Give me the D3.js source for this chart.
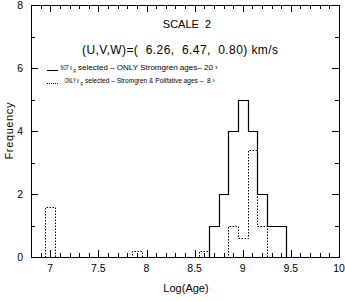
<!DOCTYPE html>
<html>
<head>
<meta charset="utf-8">
<script src="https://cdn.jsdelivr.net/npm/d3@7"></script>
<style>
  body { margin: 0; background: #fff; }
  text { font-family: "Liberation Sans", Arial, sans-serif; fill: #000; white-space: pre; }
</style>
</head>
<body>
<div id="wrapper"></div>
<script>
// bins of width 0.1 in Log(Age), by centre
const binWidth = 0.1
const solidBins = [8.7, 8.8, 8.9, 9.0, 9.1, 9.2, 9.3, 9.4]
const solidCounts = [1, 2, 4, 5, 4, 2, 1, 1]
const dottedBins = [7.0, 7.9, 8.6, 8.9, 9.0, 9.1, 9.2]
const dottedCounts = [1.6, 0.2, 0.2, 1.0, 0.6, 3.4, 1.0]

const xTickLabels = [7, 7.5, 8, 8.5, 9, 9.5, 10]
const yTickLabels = [0, 2, 4, 6, 8]

const titleText = "SCALE  2"
const velText = "(U,V,W)=(  6.26,  6.47,  0.80) km/s"

let dimensions = {
  width: 345,
  height: 301,
  margin: { top: 5, right: 6, bottom: 44, left: 31 },
}
dimensions.boundedWidth = dimensions.width - dimensions.margin.left - dimensions.margin.right
dimensions.boundedHeight = dimensions.height - dimensions.margin.top - dimensions.margin.bottom

const xScale = d3.scaleLinear()
  .domain([6.8, 10])
  .range([0, dimensions.boundedWidth])

const yScale = d3.scaleLinear()
  .domain([0, 8])
  .range([dimensions.boundedHeight, 0])

const svg = d3.select("#wrapper")
  .append("svg")
    .attr("width", dimensions.width)
    .attr("height", dimensions.height)

const bounds = svg.append("g")
  .attr("transform", `translate(${dimensions.margin.left},${dimensions.margin.top})`)

// frame
bounds.append("rect")
  .attr("x", 0.5).attr("y", 0.5)
  .attr("width", dimensions.boundedWidth)
  .attr("height", dimensions.boundedHeight)
  .attr("fill", "none")
  .attr("stroke", "#000")
  .attr("stroke-width", 1)

// ticks: minor every 0.1, major every 0.5 (inward on both sides)
const xMinor = d3.range(68, 101).map(d => d / 10)
const tickG = bounds.append("g").attr("stroke", "#000").attr("stroke-width", 1)
xMinor.forEach(v => {
  const major = Math.abs(v * 2 - Math.round(v * 2)) < 1e-6
  const len = major ? 7 : 4
  const x = Math.round(xScale(v)) + 0.5
  tickG.append("line").attr("x1", x).attr("x2", x)
    .attr("y1", dimensions.boundedHeight).attr("y2", dimensions.boundedHeight - len)
  tickG.append("line").attr("x1", x).attr("x2", x)
    .attr("y1", 0).attr("y2", len)
})
d3.range(0, 9).forEach(v => {
  const len = v % 2 === 0 ? 7 : 4
  const y = Math.round(yScale(v)) + 0.5
  tickG.append("line").attr("x1", 0).attr("x2", len).attr("y1", y).attr("y2", y)
  tickG.append("line").attr("x1", dimensions.boundedWidth).attr("x2", dimensions.boundedWidth - len)
    .attr("y1", y).attr("y2", y)
})

// tick labels
bounds.append("g").selectAll("text")
  .data(xTickLabels)
  .join("text")
    .attr("x", d => xScale(d))
    .attr("y", dimensions.boundedHeight + 15)
    .attr("text-anchor", "middle")
    .attr("font-size", 10.5)
    .text(d => d)

bounds.append("g").selectAll("text")
  .data(yTickLabels)
  .join("text")
    .attr("x", -8)
    .attr("y", d => yScale(d) + 4)
    .attr("text-anchor", "end")
    .attr("font-size", 10.5)
    .text(d => d)

// axis titles
svg.append("text")
  .attr("x", 186)
  .attr("y", 292)
  .attr("text-anchor", "middle")
  .attr("font-size", 11)
  .text("Log(Age)")

svg.append("text")
  .attr("transform", "translate(13,131) rotate(-90)")
  .attr("text-anchor", "middle")
  .attr("font-size", 11)
  .attr("textLength", 57)
  .text("Frequency")

// step outline of a histogram
function stepPoints(bins, counts) {
  const pts = []
  let prevRight = null
  bins.forEach((c, i) => {
    const left = c - binWidth / 2
    const right = c + binWidth / 2
    if (prevRight === null || Math.abs(prevRight - left) > 1e-6) {
      if (prevRight !== null) pts.push([prevRight, 0])
      pts.push([left, 0])
    }
    pts.push([left, counts[i]])
    pts.push([right, counts[i]])
    prevRight = right
  })
  pts.push([prevRight, 0])
  return pts
}

const line = d3.line()
  .x(d => Math.round(xScale(d[0])) + 0.5)
  .y(d => Math.round(yScale(d[1])) + 0.5)

bounds.append("path")
  .attr("d", line(stepPoints(solidBins, solidCounts)))
  .attr("fill", "none")
  .attr("stroke", "#000")
  .attr("stroke-width", 1.2)

bounds.append("path")
  .attr("d", line(stepPoints(dottedBins, dottedCounts)))
  .attr("fill", "none")
  .attr("stroke", "#000")
  .attr("stroke-width", 1)
  .attr("stroke-dasharray", "1.5,1.5")

// title texts
svg.append("text")
  .attr("x", 187).attr("y", 28)
  .attr("text-anchor", "middle")
  .attr("font-size", 11)
  .text(titleText)

svg.append("text")
  .attr("x", 180).attr("y", 54)
  .attr("text-anchor", "middle")
  .attr("font-size", 12)
  .attr("textLength", 196)
  .text(velText)

// legend: pieces placed side by side (subscript R on its own),
// squeezed horizontally to the narrow plotter font
svg.append("line")
  .attr("x1", 47).attr("x2", 58).attr("y1", 70.5).attr("y2", 70.5)
  .attr("stroke", "#000")
svg.append("line")
  .attr("x1", 47).attr("x2", 58).attr("y1", 83.5).attr("y2", 83.5)
  .attr("stroke", "#000").attr("stroke-dasharray", "1,1")

function legendPiece(x, y, size, len, str) {
  const t = svg.append("text")
    .attr("font-size", size)
    .text(str)
  const w = t.node().getComputedTextLength()
  t.attr("transform", `translate(${x},${y}) scale(${len / w},1)`)
}
legendPiece(60.5, 70, 6.5, 11.5, "NOT v")
legendPiece(73.5, 72.5, 4.5, 2.5, "R")
legendPiece(78, 70, 6.5, 140, "selected \u2013 ONLY Stromgren ages\u2013 20 \u203a")

legendPiece(64.5, 83, 6.5, 14.5, "ONLY v")
legendPiece(80.5, 85.5, 4.5, 2.5, "R")
legendPiece(85, 83, 6.5, 130, "selected \u2013 Stromgren & Pollfative ages \u2013  8 \u203a")
</script>
</body>
</html>
